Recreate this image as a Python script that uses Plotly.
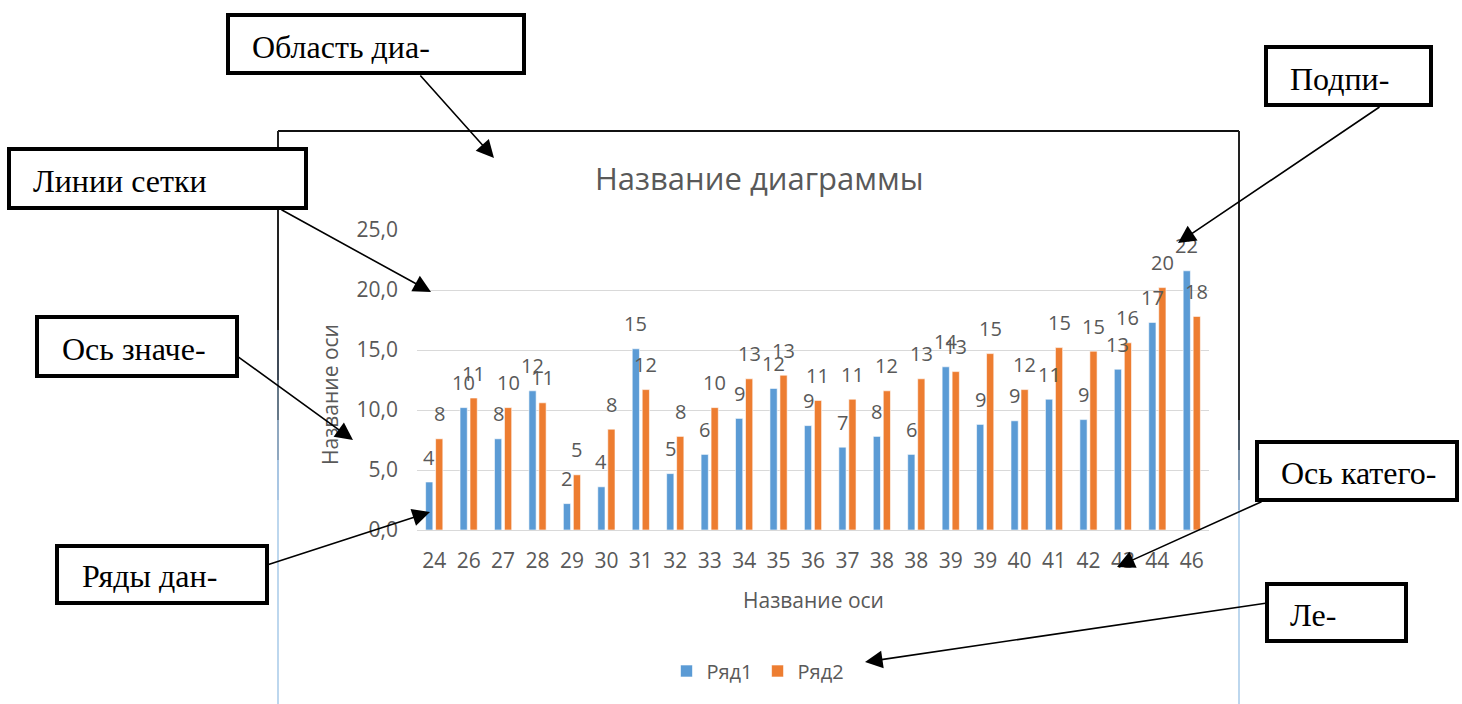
import plotly.graph_objects as go

W, H = 1462, 704

categories = ["24", "26", "27", "28", "29", "30", "31", "32", "33", "34", "35", "36",
              "37", "38", "38", "39", "39", "40", "41", "42", "43", "44", "46"]
series1_name = "Ряд1"
series2_name = "Ряд2"
series1 = [4.0, 10.2, 7.6, 11.6, 2.2, 3.6, 15.1, 4.7, 6.3, 9.3, 11.8, 8.7,
           6.9, 7.8, 6.3, 13.6, 8.8, 9.1, 10.9, 9.2, 13.4, 17.3, 21.6]
series2 = [7.6, 11.0, 10.2, 10.6, 4.6, 8.4, 11.7, 7.8, 10.2, 12.6, 12.9, 10.8,
           10.9, 11.6, 12.6, 13.2, 14.7, 11.7, 15.2, 14.9, 15.6, 20.2, 17.8]
y_ticks = [0, 5, 10, 15, 20, 25]

chart_title = "Название диаграммы"
axis_title = "Название оси"

callouts = [
    # text, box (x0, y0, x1, y1), text x, text y, arrow tail, arrow head
    ("Область диа-", (228, 15, 524, 73), 250, 47, (419, 74), (494, 158)),
    ("Линии сетки", (9, 149, 306, 208), 31, 181, (280, 209), (431, 292)),
    ("Ось значе-", (37, 317, 237, 376), 60, 349, (237, 356), (353, 440)),
    ("Ряды дан-", (57, 546, 267, 603), 80, 576, (267, 565), (430, 512)),
    ("Подпи-", (1266, 47, 1431, 105), 1288, 79, (1381, 106), (1178, 243)),
    ("Ось катего-", (1257, 442, 1457, 500), 1279, 473, (1263, 501), (1117, 567)),
    ("Ле-", (1267, 584, 1406, 641), 1288, 615, (1267, 603), (865, 662)),
]

BLUE = "#5B9BD5"
ORANGE = "#ED7D31"
GRAY = "#595959"
GRID = "#D9D9D9"
FONT = "Open Sans"
SERIF = "Liberation Serif"


def px(x):
    return x / W


def py(y):
    return 1 - y / H


xs = list(range(len(categories)))
bar_w = 0.21

fig = go.Figure()
fig.add_trace(go.Bar(x=xs, y=series1, name=series1_name, width=bar_w, offset=-0.25,
                     marker=dict(color=BLUE, line=dict(color="white", width=0.6))))
fig.add_trace(go.Bar(x=xs, y=series2, name=series2_name, width=bar_w, offset=0.04,
                     marker=dict(color=ORANGE, line=dict(color="white", width=0.6))))

annotations = []
# data labels
for i, (a, b) in enumerate(zip(series1, series2)):
    for xv, v in ((i - 0.145, a), (i + 0.145, b)):
        annotations.append(dict(x=xv, y=v, xref="x", yref="y", text=str(int(round(v))),
                                showarrow=False, yshift=25, yanchor="middle",
                                font=dict(family=FONT, size=20, color=GRAY)))

# chart title and axis titles
annotations.append(dict(x=px(759), y=py(178), xref="paper", yref="paper", text=chart_title,
                        showarrow=False, xanchor="center", yanchor="middle",
                        font=dict(family=FONT, size=31, color=GRAY)))
annotations.append(dict(x=px(813), y=py(600), xref="paper", yref="paper", text=axis_title,
                        showarrow=False, xanchor="center", yanchor="middle",
                        font=dict(family=FONT, size=21, color=GRAY)))
annotations.append(dict(x=px(330), y=py(395), xref="paper", yref="paper", text=axis_title,
                        showarrow=False, xanchor="center", yanchor="middle", textangle=-90,
                        font=dict(family=FONT, size=21, color=GRAY)))

shapes = []
# chart area frame
shapes.append(dict(type="line", xref="paper", yref="paper", x0=px(278), x1=px(1239),
                   y0=py(131), y1=py(131), line=dict(color="#111111", width=2), layer="above"))
frame_cols = [(131, 330, "#222222"), (330, 380, "#3F4A57"), (380, 420, "#667888"),
              (420, 460, "#8FA7BF"), (460, 500, "#A9C6E3"), (500, 704, "#BDD7EE")]
frame_cols_r = [(131, 420, "#222222"), (420, 450, "#4A5866"), (450, 480, "#7890A8"),
                (480, 510, "#9DBAD8"), (510, 704, "#BDD7EE")]
for y0, y1, c in frame_cols:
    shapes.append(dict(type="line", xref="paper", yref="paper", x0=px(278), x1=px(278),
                       y0=py(y0), y1=py(y1), line=dict(color=c, width=2), layer="above"))
for y0, y1, c in frame_cols_r:
    shapes.append(dict(type="line", xref="paper", yref="paper", x0=px(1239), x1=px(1239),
                       y0=py(y0), y1=py(y1), line=dict(color=c, width=2), layer="above"))

# callouts
for text, (bx0, by0, bx1, by1), tx, ty, tail, head in callouts:
    shapes.append(dict(type="rect", xref="paper", yref="paper", x0=px(bx0), x1=px(bx1),
                       y0=py(by0), y1=py(by1), line=dict(color="black", width=4),
                       fillcolor="white", layer="above"))
    annotations.append(dict(x=px(tx), y=py(ty), xref="paper", yref="paper", text=text,
                            showarrow=False, xanchor="left", yanchor="middle",
                            font=dict(family=SERIF, size=32, color="black")))
    annotations.append(dict(x=px(head[0]), y=py(head[1]), xref="paper", yref="paper", text="",
                            showarrow=True, ax=tail[0] - head[0], ay=tail[1] - head[1],
                            arrowhead=2, arrowsize=2.2, arrowwidth=1.6, arrowcolor="black",
                            standoff=0, startstandoff=0))

fig.update_layout(
    width=W, height=H,
    margin=dict(l=0, r=0, t=0, b=0, autoexpand=False),
    paper_bgcolor="white", plot_bgcolor="white",
    separators=", ",
    barmode="group",
    showlegend=True,
    legend=dict(orientation="h", x=px(758), xanchor="center", y=py(671), yanchor="middle",
                font=dict(family=FONT, size=20, color=GRAY), itemwidth=30,
                bgcolor="rgba(0,0,0,0)"),
    xaxis=dict(domain=[px(417), px(1209)], range=[-0.5, len(categories) - 0.5],
               tickmode="array", tickvals=xs, ticktext=categories,
               tickfont=dict(family=FONT, size=21, color=GRAY), automargin=False,
               showgrid=False, zeroline=False, showline=True, linecolor=GRID, linewidth=1,
               ticks="", ticklabelstandoff=12, fixedrange=True),
    yaxis=dict(domain=[py(530), py(230)], range=[0, 25], tickmode="array", tickvals=y_ticks,
               tickformat=".1f", tickfont=dict(family=FONT, size=21, color=GRAY),
               automargin=False,
               showgrid=True, gridcolor=GRID, gridwidth=1, zeroline=False, showline=False,
               ticks="", ticklabelstandoff=18, fixedrange=True),
    annotations=annotations,
    shapes=shapes,
)

fig.write_html("out.html", config={"displayModeBar": False},
               post_script="document.body.style.margin='0px';document.body.style.overflow='hidden';")
